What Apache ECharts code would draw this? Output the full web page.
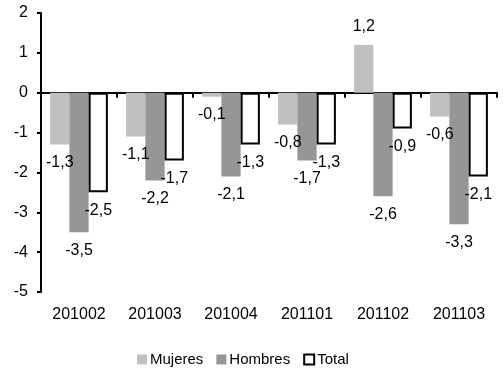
<!DOCTYPE html>
<html>
<head>
<meta charset="utf-8">
<style>
  html, body { margin: 0; padding: 0; background: #fff; }
  #chart { width: 503px; height: 369px; }
</style>
<script src="https://cdn.jsdelivr.net/npm/echarts@6/dist/echarts.min.js"></script>
</head>
<body>
<div id="chart"></div>
<script>
// Periods (year + quarter code)
const categories = ['201002', '201003', '201004', '201101', '201102', '201103'];

// Year-on-year change by group
const mujeres = [-1.3, -1.1, -0.1, -0.8, 1.2, -0.6];
const hombres = [-3.5, -2.2, -2.1, -1.7, -2.6, -3.3];
const total   = [-2.5, -1.7, -1.3, -1.3, -0.9, -2.1];

const yTicks = { min: -5, max: 2, interval: 1 };

const FONT = "'Liberation Sans', Arial, sans-serif";
const FS = 16;

function fmt(v) {
  return v.toFixed(1).replace('.', ',');
}

// Labels sit beyond the end of each bar: below for negatives, above for positives
function withLabels(values) {
  return values.map(v => ({
    value: v,
    label: { position: v < 0 ? 'bottom' : 'top' }
  }));
}

const labelStyle = {
  show: true,
  distance: 10,
  color: '#000',
  fontFamily: FONT,
  fontSize: FS,
  formatter: p => fmt(p.value)
};

const chart = echarts.init(document.getElementById('chart'), null, { renderer: 'canvas' });

chart.setOption({
  animation: false,
  backgroundColor: '#fff',
  textStyle: { fontFamily: FONT },
  grid: { left: 41, right: 6, top: 13, bottom: 77, containLabel: false },
  legend: {
    left: 132,
    top: 347,
    itemWidth: 10,
    itemHeight: 10,
    itemGap: 13,
    icon: 'rect',
    textStyle: { fontFamily: FONT, fontSize: 15, color: '#000', padding: [0, 0, 0, -2] },
    data: ['Mujeres', 'Hombres', 'Total']
  },
  xAxis: [
    {
      // category labels along the bottom of the plot
      type: 'category',
      data: categories,
      position: 'bottom',
      axisLine: { show: false, onZero: false },
      axisTick: { show: false },
      axisLabel: { color: '#000', fontFamily: FONT, fontSize: FS, margin: 15 }
    },
    {
      // baseline with category separators at zero
      type: 'category',
      data: categories,
      position: 'bottom',
      axisLine: { show: true, onZero: true, lineStyle: { color: '#000', width: 2 } },
      axisTick: { show: true, length: 5, lineStyle: { color: '#000', width: 2 } },
      axisLabel: { show: false }
    }
  ],
  yAxis: {
    type: 'value',
    min: yTicks.min,
    max: yTicks.max,
    interval: yTicks.interval,
    axisLine: { show: true, lineStyle: { color: '#000', width: 2 } },
    axisTick: { show: true, length: 4, lineStyle: { color: '#000', width: 2 } },
    splitLine: { show: false },
    axisLabel: { color: '#000', fontFamily: FONT, fontSize: FS, margin: 13 }
  },
  series: [
    {
      name: 'Mujeres',
      type: 'bar',
      xAxisIndex: 0,
      data: withLabels(mujeres),
      barGap: '0%',
      barCategoryGap: '24%',
      itemStyle: { color: '#c0c0c0' },
      label: labelStyle
    },
    {
      name: 'Hombres',
      type: 'bar',
      xAxisIndex: 0,
      data: withLabels(hombres),
      barGap: '0%',
      barCategoryGap: '24%',
      itemStyle: { color: '#969696' },
      label: labelStyle
    },
    {
      name: 'Total',
      type: 'bar',
      xAxisIndex: 0,
      data: withLabels(total),
      barGap: '0%',
      barCategoryGap: '24%',
      itemStyle: { color: '#ffffff', borderColor: '#000', borderWidth: 2 },
      label: labelStyle
    }
  ]
});
</script>
</body>
</html>
